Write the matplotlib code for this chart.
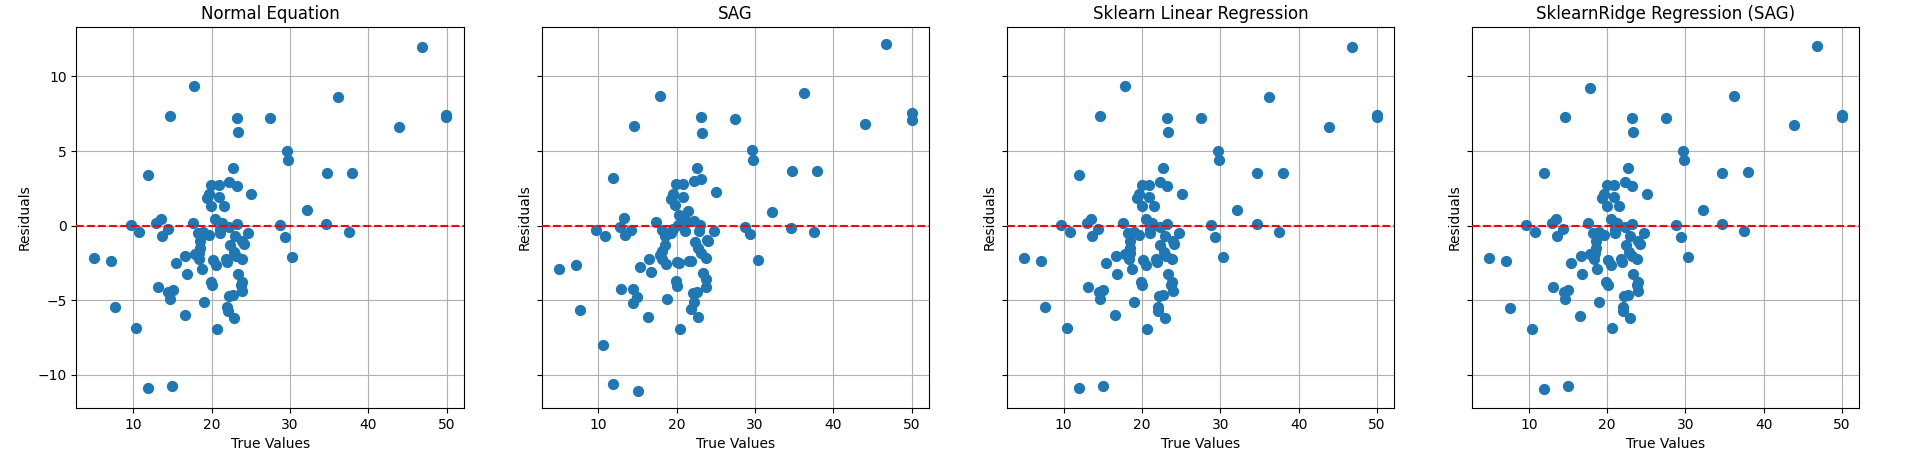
import matplotlib
matplotlib.use("Agg")
import matplotlib.pyplot as plt
import numpy as np

titles = ["Normal Equation", "SAG", "Sklearn Linear Regression", "SklearnRidge Regression (SAG)"]

# Normal equation / sklearn linear (visually identical)
true_ne = [46.77, 17.79, 36.17, 14.66, 23.18, 27.48, 49.95, 49.95, 43.9, 23.3,
           29.66, 29.79, 22.7, 34.72, 37.96, 11.91, 22.25, 23.2, 19.94, 20.87,
           25.07, 19.6, 19.38, 20.87, 19.95, 21.53, 32.18, 9.7, 10.77, 12.93,
           13.46, 14.37, 13.6, 17.55, 20.45, 21.27, 23.19, 22.26, 21.0, 21.0,
           28.75, 34.64, 37.53, 29.38, 24.68, 22.98, 23.9, 24.14, 22.35, 18.2,
           18.94, 19.6, 18.52, 18.52, 18.43, 17.8, 18.32, 16.65, 15.39, 18.7,
           16.8, 20.13, 20.48, 21.8, 21.95, 22.8, 23.12, 23.82, 23.29, 23.88,
           23.76, 23.92, 19.92, 20.06, 30.3, 4.98, 7.15, 13.1, 15.01, 14.48,
           14.63, 18.96, 22.14, 22.68, 22.0, 22.02, 22.9, 7.62, 16.54, 10.38,
           20.62, 11.91, 14.98]
resid_ne = [11.97, 9.33, 8.59, 7.33, 7.19, 7.19, 7.45, 7.30, 6.64, 6.31,
            4.99, 4.37, 3.83, 3.56, 3.51, 3.42, 2.92, 2.68, 2.71, 2.71,
            2.14, 2.12, 1.82, 1.90, 1.33, 1.34, 1.02, 0.07, -0.43, 0.15,
            0.42, -0.21, -0.67, 0.20, 0.42, 0.15, 0.08, -0.06, -0.24, -0.50,
            0.01, 0.09, -0.45, -0.79, -0.48, -0.68, -1.02, -1.22, -1.31, -0.52,
            -0.43, -0.61, -1.05, -1.5, -1.82, -1.93, -2.25, -2.02, -2.50, -2.9,
            -3.24, -2.28, -2.66, -2.26, -2.43, -1.8, -2.05, -2.22, -3.23, -3.77,
            -3.98, -4.36, -3.76, -3.97, -2.09, -2.15, -2.39, -4.09, -4.29, -4.46,
            -4.92, -5.12, -4.71, -4.65, -5.43, -5.73, -6.18, -5.48, -5.98, -6.85,
            -6.94, -10.92, -10.78]

# Ridge (SAG) residuals, same true values
resid_ridge = [12.03, 9.26, 8.66, 7.25, 7.19, 7.19, 7.45, 7.30, 6.73, 6.31,
               4.99, 4.37, 3.83, 3.56, 3.58, 3.51, 2.92, 2.68, 2.71, 2.71,
               2.14, 2.12, 1.82, 1.90, 1.33, 1.34, 1.02, 0.07, -0.43, 0.15,
               0.42, -0.21, -0.67, 0.20, 0.42, 0.15, 0.08, -0.06, -0.24, -0.50,
               0.01, 0.09, -0.38, -0.79, -0.48, -0.68, -1.02, -1.22, -1.31, -0.52,
               -0.43, -0.61, -1.05, -1.5, -1.82, -1.93, -2.25, -2.02, -2.50, -2.9,
               -3.24, -2.28, -2.66, -2.26, -2.43, -1.8, -2.05, -2.22, -3.23, -3.77,
               -3.98, -4.36, -3.76, -3.97, -2.12, -2.15, -2.39, -4.09, -4.29, -4.46,
               -4.92, -5.12, -4.71, -4.65, -5.43, -5.73, -6.22, -5.55, -6.08, -6.92,
               -6.87, -10.95, -10.78]

# SAG
true_sag = [46.73, 17.87, 36.32, 14.5, 23.1, 27.5, 50.0, 50.0, 44.0, 23.22,
            29.6, 29.8, 22.55, 34.7, 37.93, 11.85, 22.18, 23.12, 19.86, 20.8,
            24.98, 19.49, 19.32, 20.77, 19.83, 21.45, 20.26, 32.12, 9.7, 10.8,
            13.29, 12.78, 13.33, 14.19, 17.39, 20.17, 21.24, 22.18, 23.0, 21.03,
            22.86, 24.7, 23.85, 24.0, 22.39, 22.74, 23.08, 23.8, 18.16, 18.46,
            19.23, 19.53, 18.46, 18.12, 17.82, 18.16, 18.68, 16.45, 15.34, 16.75,
            20.09, 20.26, 21.58, 21.88, 23.33, 23.72, 23.68, 19.96, 20.09, 12.91,
            14.44, 14.96, 14.44, 18.8, 22.05, 22.56, 22.22, 21.88, 22.74, 16.37,
            20.47, 28.7, 34.6, 37.6, 29.39, 30.32, 4.98, 7.15, 7.62, 10.55,
            11.91, 15.1]
resid_sag = [12.15, 8.66, 8.88, 6.66, 7.26, 7.12, 7.54, 7.05, 6.78, 6.2,
             5.05, 4.37, 3.83, 3.69, 3.69, 3.22, 3.01, 3.1, 2.76, 2.82,
             2.28, 2.09, 1.80, 1.94, 1.35, 0.97, 0.68, 0.93, -0.27, -0.67,
             0.52, -0.11, -0.61, -0.27, 0.27, 0.07, 0.29, 0.29, 0.05, -0.38,
             -0.38, -0.34, -0.95, -1.06, -1.1, -1.5, -1.85, -2.18, -0.27, -0.72,
             -0.5, -0.23, -1.28, -1.67, -1.96, -2.25, -2.57, -2.25, -2.75, -3.13,
             -2.45, -2.52, -2.36, -2.39, -3.2, -3.6, -4.1, -3.74, -4.05, -4.28,
             -4.28, -4.77, -5.16, -4.89, -4.55, -4.48, -5.09, -5.59, -6.1, -6.1,
             -6.91, -0.07, -0.16, -0.4, -0.58, -2.28, -2.89, -2.64, -5.64, -7.99,
             -10.6, -11.07]

series = [(true_ne, resid_ne), (true_sag, resid_sag), (true_ne, resid_ne), (true_ne, resid_ridge)]

fig, axes = plt.subplots(1, 4, figsize=(19.11, 4.59), dpi=100, sharey=True)
fig.subplots_adjust(left=0.040, right=0.973, top=0.941, bottom=0.111, wspace=0.2)

for ax, title, (xv, yv) in zip(axes, titles, series):
    ax.scatter(xv, yv, s=50, color="#1f77b4", zorder=2)
    ax.axhline(0, color="red", linestyle="--", zorder=3)
    ax.set_title(title, fontsize=12)
    ax.set_xlabel("True Values")
    ax.set_ylabel("Residuals")
    ax.grid(True)
    ax.set_xticks([10, 20, 30, 40, 50])
    ax.set_yticks([-10, -5, 0, 5, 10])
    ax.yaxis.set_tick_params(labelleft=(ax is axes[0]))

fig.savefig("out.png", dpi=100)
